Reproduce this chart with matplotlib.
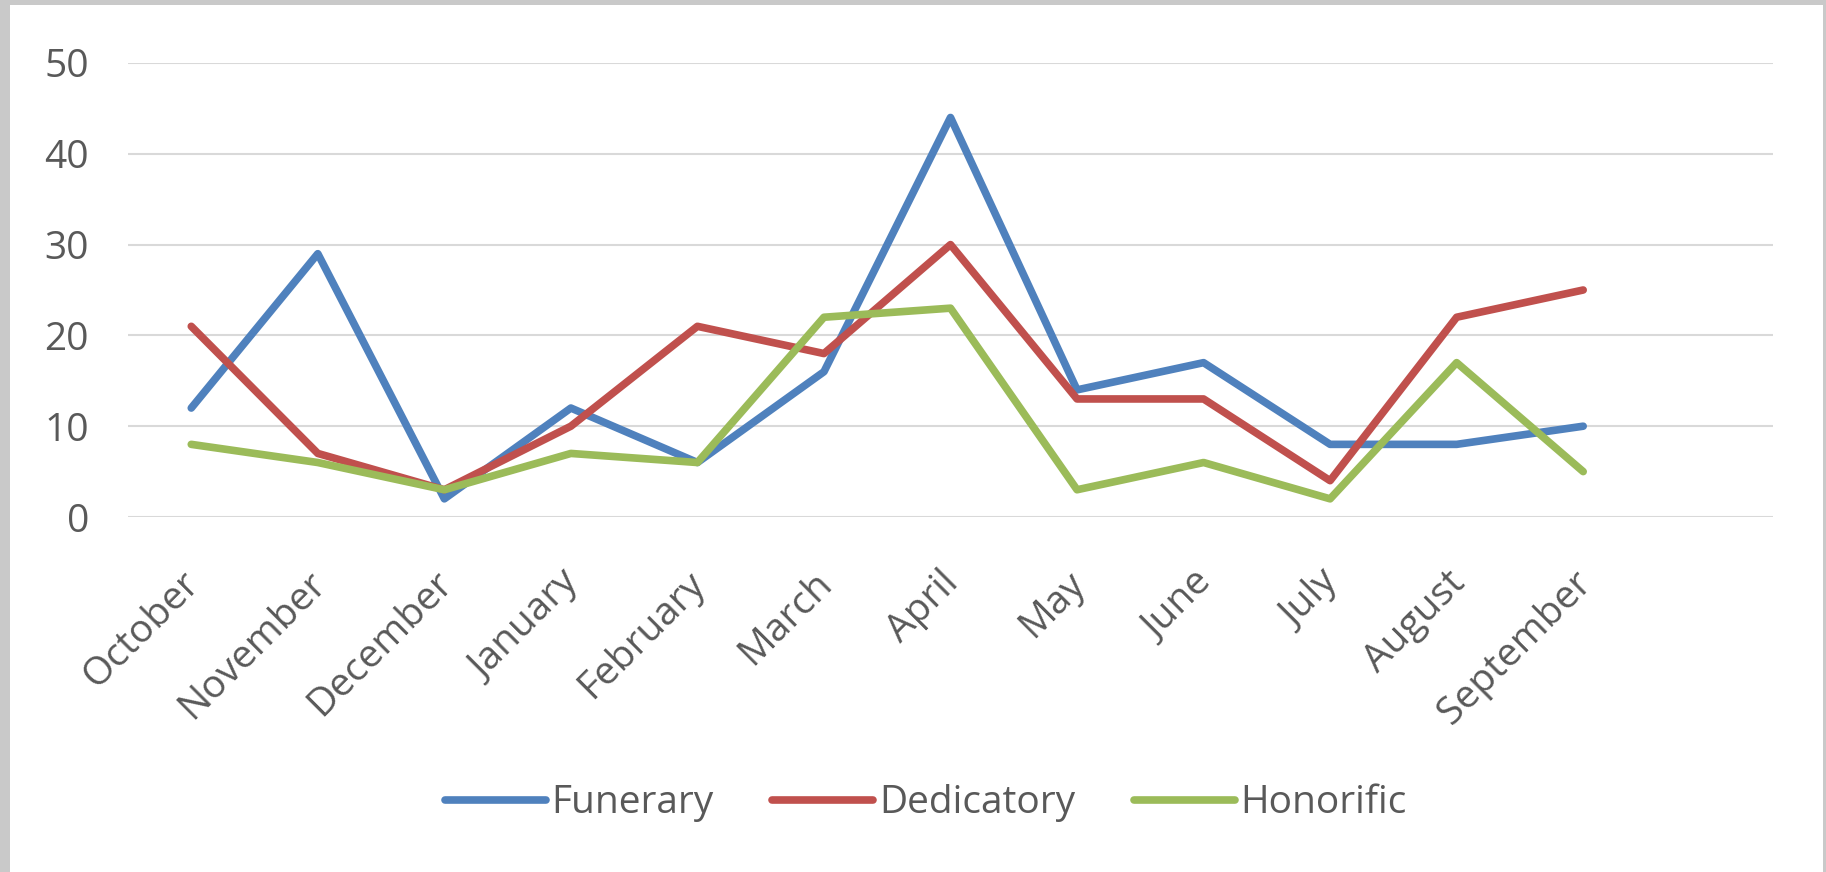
import matplotlib
matplotlib.use("Agg")
import matplotlib.pyplot as plt
from matplotlib.patches import Rectangle
from matplotlib.transforms import ScaledTranslation

months = ["October", "November", "December", "January", "February", "March",
          "April", "May", "June", "July", "August", "September"]
funerary = [12, 29, 2, 12, 6, 16, 44, 14, 17, 8, 8, 10]
dedicatory = [21, 7, 3, 10, 21, 18, 30, 13, 13, 4, 22, 25]
honorific = [8, 6, 3, 7, 6, 22, 23, 3, 6, 2, 17, 5]
yticks = [0, 10, 20, 30, 40, 50]

plt.rcParams['font.family'] = ['Open Sans', 'DejaVu Sans']
text_color = '#595959'

fig = plt.figure(figsize=(18.26, 8.72), dpi=100, facecolor='#c9c9c9')
fig.patches.append(Rectangle((10 / 1826, 0), 1813 / 1826, 867 / 872,
                             transform=fig.transFigure, facecolor='white',
                             edgecolor='none', zorder=-10))

ax = fig.add_axes([128 / 1826, 1 - 517 / 872, 1645 / 1826, 454 / 872])
ax.set_facecolor('none')

x = list(range(len(months)))
ax.plot(x, funerary, color='#4F81BD', lw=5.5, solid_capstyle='round', label='Funerary', zorder=3)
ax.plot(x, dedicatory, color='#C0504D', lw=5.5, solid_capstyle='round', label='Dedicatory', zorder=3)
ax.plot(x, honorific, color='#9BBB59', lw=5.5, solid_capstyle='round', label='Honorific', zorder=3)

ax.set_xlim(-0.5, 12.5)
ax.set_ylim(0, 50)
ax.set_yticks(yticks)
ax.grid(axis='y', color='#d9d9d9', lw=1.5)
ax.set_axisbelow(True)
for s in ax.spines.values():
    s.set_visible(False)

ax.tick_params(axis='y', length=0, pad=28, labelsize=28, labelcolor=text_color)
ax.tick_params(axis='x', length=0, pad=34, labelsize=28, labelcolor=text_color)
ax.set_xticks(x)
ax.set_xticklabels(months, rotation=45, ha='right', va='top', rotation_mode='anchor')
shift = ScaledTranslation(-0.11, 0, fig.dpi_scale_trans)
for lab in ax.get_xticklabels():
    lab.set_transform(lab.get_transform() + shift)

leg = fig.legend(loc='center', bbox_to_anchor=(0.507, 0.079), ncol=3, frameon=False,
                 fontsize=28, handlelength=2.6, handletextpad=0.15, columnspacing=1.5)
for t in leg.get_texts():
    t.set_color(text_color)

fig.savefig('out.png', dpi=100, facecolor=fig.get_facecolor())
